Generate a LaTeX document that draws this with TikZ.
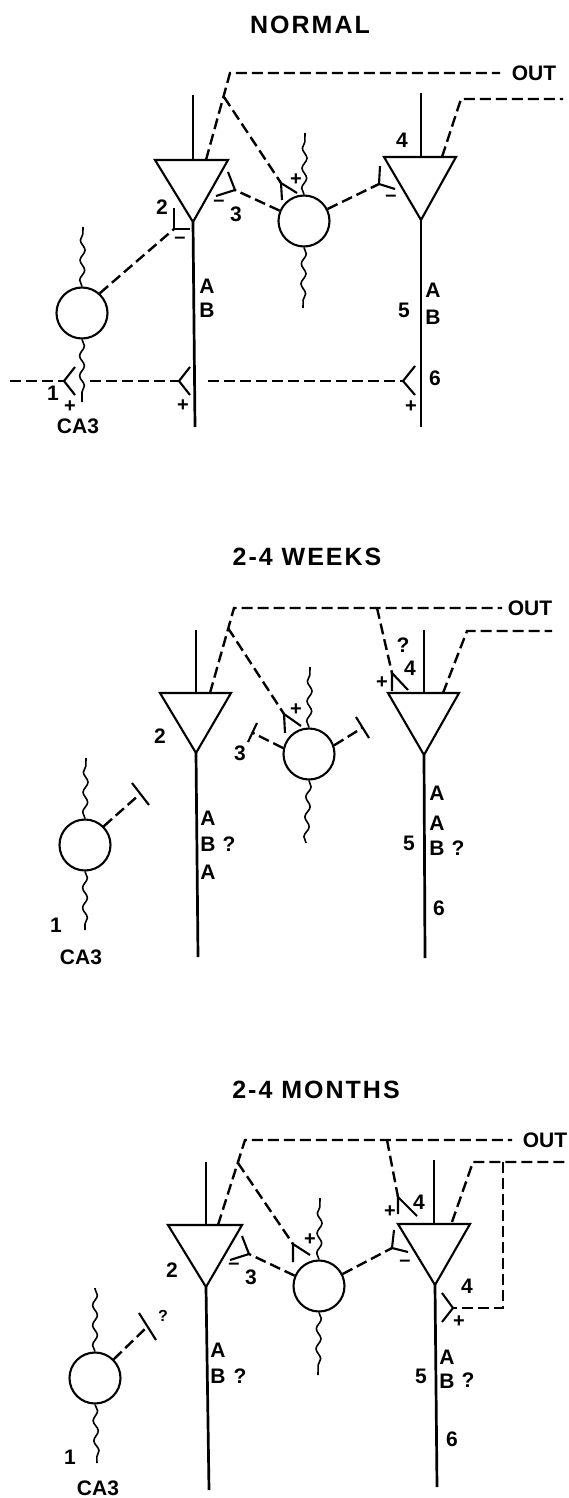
\documentclass[tikz,border=0pt]{standalone}
\usepackage{fontspec}
\setmainfont{Liberation Sans}
\newfontfamily\ttlfont[LetterSpace=8]{Liberation Sans}
\usetikzlibrary{decorations.pathmorphing}
\begin{document}
\begin{tikzpicture}[x=1pt,y=-1pt,
 axon/.style={line width=2.7pt},
 body/.style={line width=2.1pt, line join=miter},
 dsh/.style={line width=2.4pt, dash pattern=on 11pt off 5pt},
 syn/.style={line width=2.1pt},
 wav/.style={line width=1.6pt, decorate, decoration={snake, amplitude=2.4pt, segment length=20pt}},
 cell/.style={circle, draw, line width=2.1pt, minimum size=51pt, inner sep=0pt},
 lab/.style={font=\bfseries\fontsize{21}{21}\selectfont, inner sep=0pt},
 sml/.style={font=\bfseries\fontsize{20}{20}\selectfont, inner sep=0pt},
 tiny/.style={font=\bfseries\fontsize{16}{16}\selectfont, inner sep=0pt},
 ttl/.style={font=\ttlfont\bfseries\fontsize{25}{25}\selectfont, inner sep=0pt}]
\useasboundingbox (0,0) rectangle (569,1498);

%================ PANEL 1 : NORMAL ================
\node[ttl] (t1) at (310,25) {NORMAL};
% left granule cell
\coordinate (a1l) at (155,160); \coordinate (a1r) at (228,160); \coordinate (a1p) at (193,222);
\coordinate (a1d) at (193,95); \coordinate (a1t) at (193,160); \coordinate (a1b) at (195,427);
\draw[body] (a1l) -- (a1r) -- (a1p) -- cycle;
\draw[axon] (a1d) -- (a1t); \draw[axon] (a1p) -- (a1b);
% right granule cell
\coordinate (b1l) at (384,157); \coordinate (b1r) at (456,157); \coordinate (b1p) at (421,220);
\coordinate (b1d) at (421,93); \coordinate (b1t) at (421,157); \coordinate (b1b) at (421,427);
\draw[body] (b1l) -- (b1r) -- (b1p) -- cycle;
\draw[axon] (b1d) -- (b1t); \draw[axon] (b1p) -- (b1b);
% outputs
\coordinate (o1a) at (206,160); \coordinate (k1) at (230,73); \coordinate (o1e) at (500,73);
\draw[dsh] (o1a) -- (k1) -- (o1e);
\node[lab] (out1) at (534,73) {OUT};
\coordinate (o2a) at (442,157); \coordinate (k2) at (461,99); \coordinate (o2e) at (563,99);
\draw[dsh] (o2a) -- (k2) -- (o2e);
% interneuron
\node[cell] (c1) at (304,221) {};
\coordinate (c1u) at (305,133); \coordinate (c1d) at (303,308);
\draw[wav] (c1.north) -- (c1u); \draw[wav] (c1.south) -- (c1d);
% recurrent excitation to interneuron (+)
\coordinate (p1) at (224,97); \coordinate (s1) at (281,183);
\coordinate (s1a) at (282,200); \coordinate (s1b) at (297,193);
\draw[dsh] (p1) -- (s1);
\draw[syn] (s1a) -- (s1) -- (s1b);
\node[sml] (pl1) at (296,180) {+};
% synapse 3
\coordinate (s3) at (235,190); \coordinate (s3a) at (228,172); \coordinate (s3b) at (216,196);
\draw[dsh] (c1.157) -- (s3);
\draw[syn] (s3a) -- (s3) -- (s3b);
\node[sml] (m3) at (219,203) {–};
\node[lab] (n3) at (236,214) {3};
% inhibitory synapse on right cell
\coordinate (s4) at (379,184); \coordinate (s4a) at (380,166); \coordinate (s4b) at (395,189);
\draw[dsh] (c1.27) -- (s4);
\draw[syn] (s4a) -- (s4) -- (s4b);
\node[sml] (m4) at (391,198) {–};
\node[lab] (n4) at (402,140) {4};
% left interneuron
\node[cell] (d1) at (82,313) {};
\coordinate (d1u) at (83,227); \coordinate (d1d) at (82,402);
\draw[wav] (d1.north) -- (d1u); \draw[wav] (d1.south) -- (d1d);
\coordinate (s2) at (174,229); \coordinate (s2a) at (174,208); \coordinate (s2b) at (190,229);
\draw[dsh] (d1.48) -- (s2);
\draw[syn] (s2a) -- (s2) -- (s2b);
\node[lab] (n2) at (162,207) {2};
\node[sml] (m2) at (180,240) {–};
% mossy fibre line
\coordinate (e1) at (10,381); \coordinate (v1) at (64,381);
\coordinate (v1a) at (75,367); \coordinate (v1b) at (75,395);
\coordinate (e2) at (90,381); \coordinate (v2) at (179,381);
\coordinate (v2a) at (190,367); \coordinate (v2b) at (190,395);
\coordinate (e3) at (208,381); \coordinate (v3) at (403,381);
\coordinate (v3a) at (415,366); \coordinate (v3b) at (415,395);
\draw[dsh] (e1) -- (v1); \draw[syn] (v1a) -- (v1) -- (v1b);
\draw[dsh] (e2) -- (v2); \draw[syn] (v2a) -- (v2) -- (v2b);
\draw[dsh] (e3) -- (v3); \draw[syn] (v3a) -- (v3) -- (v3b);
\node[lab] (n1) at (53,393) {1};
\node[sml] (pv1) at (70,407) {+};
\node[lab] (ca1) at (78,426) {CA3};
\node[sml] (pv2) at (183,406) {+};
\node[sml] (pv3) at (411,407) {+};
\node[lab] (A1) at (207,286) {A};
\node[lab] (B1) at (207,310) {B};
\node[lab] (A1r) at (433,290) {A};
\node[lab] (B1r) at (433,317) {B};
\node[lab] (n5) at (404,310) {5};
\node[lab] (n6) at (435,378) {6};

%================ PANEL 2 : 2-4 WEEKS ================
\node[ttl] (t2) at (307,557) {2-4 WEEKS};
\coordinate (a2l) at (160,693); \coordinate (a2r) at (231,693); \coordinate (a2p) at (196,753);
\coordinate (a2d) at (196,630); \coordinate (a2t) at (196,693); \coordinate (a2b) at (198,957);
\draw[body] (a2l) -- (a2r) -- (a2p) -- cycle;
\draw[axon] (a2d) -- (a2t); \draw[axon] (a2p) -- (a2b);
\coordinate (b2l) at (388,693); \coordinate (b2r) at (459,693); \coordinate (b2p) at (424,755);
\coordinate (b2d) at (424,630); \coordinate (b2t) at (424,693); \coordinate (b2b) at (425,958);
\draw[body] (b2l) -- (b2r) -- (b2p) -- cycle;
\draw[axon] (b2d) -- (b2t); \draw[axon] (b2p) -- (b2b);
\coordinate (o3a) at (210,693); \coordinate (k3) at (234,608); \coordinate (o3e) at (502,608);
\draw[dsh] (o3a) -- (k3) -- (o3e);
\node[lab] (out2) at (530,608) {OUT};
\coordinate (o4a) at (443,693); \coordinate (k4) at (467,631); \coordinate (o4e) at (552,631);
\draw[dsh] (o4a) -- (k4) -- (o4e);
\node[cell] (c2) at (309,754) {};
\coordinate (c2u) at (310,667); \coordinate (c2d) at (306,843);
\draw[wav] (c2.north) -- (c2u); \draw[wav] (c2.south) -- (c2d);
\coordinate (p2) at (228,628); \coordinate (s5) at (284,714);
\coordinate (s5a) at (285,733); \coordinate (s5b) at (301,726);
\draw[dsh] (p2) -- (s5); \draw[syn] (s5a) -- (s5) -- (s5b);
\node[sml] (pl2) at (296,710) {+};
% T-bars
\coordinate (tb1) at (253,733); \coordinate (tb1a) at (257,723); \coordinate (tb1b) at (248,742);
\draw[dsh] (c2.167) -- (tb1); \draw[syn] (tb1a) -- (tb1b);
\node[lab] (n3b) at (240,753) {3};
\coordinate (tb2) at (362,728); \coordinate (tb2a) at (356,717); \coordinate (tb2b) at (369,738);
\draw[dsh] (c2.19) -- (tb2); \draw[syn] (tb2a) -- (tb2b);
% recurrent to right cell (4)
\coordinate (p3) at (377,608); \coordinate (s6) at (392,673);
\coordinate (s6a) at (392,691); \coordinate (s6b) at (408,690);
\draw[dsh] (p3) -- (s6); \draw[syn] (s6a) -- (s6) -- (s6b);
\node[sml] (pl3) at (382,683) {+};
\node[lab] (n4b) at (410,668) {4};
\node[lab] (q1) at (403,645) {?};
% left interneuron
\node[cell] (d2) at (85,845) {};
\coordinate (d2u) at (86,758); \coordinate (d2d) at (85,930);
\draw[wav] (d2.north) -- (d2u); \draw[wav] (d2.south) -- (d2d);
\coordinate (tb3) at (140,794); \coordinate (tb3a) at (132,783); \coordinate (tb3b) at (149,805);
\draw[dsh] (d2.45) -- (tb3); \draw[syn] (tb3a) -- (tb3b);
\node[lab] (n2b) at (160,736) {2};
\node[lab] (A2) at (208,818) {A};
\node[lab] (B2) at (208,844) {B};
\node[lab] (q2) at (229,844) {?};
\node[lab] (A2b) at (208,872) {A};
\node[lab] (A2r) at (437,793) {A};
\node[lab] (A2s) at (437,823) {A};
\node[lab] (B2r) at (437,848) {B};
\node[lab] (q3) at (458,848) {?};
\node[lab] (n5b) at (409,843) {5};
\node[lab] (n6b) at (439,908) {6};
\node[lab] (n1b) at (56,925) {1};
\node[lab] (ca2) at (81,957) {CA3};

%================ PANEL 3 : 2-4 MONTHS ================
\node[ttl] (t3) at (316,1090) {2-4 MONTHS};
\coordinate (a3l) at (168,1225); \coordinate (a3r) at (242,1225); \coordinate (a3p) at (206,1287);
\coordinate (a3d) at (206,1162); \coordinate (a3t) at (206,1225); \coordinate (a3b) at (209,1490);
\draw[body] (a3l) -- (a3r) -- (a3p) -- cycle;
\draw[axon] (a3d) -- (a3t); \draw[axon] (a3p) -- (a3b);
\coordinate (b3l) at (398,1224); \coordinate (b3r) at (470,1224); \coordinate (b3p) at (435,1285);
\coordinate (b3d) at (434,1160); \coordinate (b3t) at (434,1224); \coordinate (b3b) at (437,1487);
\draw[body] (b3l) -- (b3r) -- (b3p) -- cycle;
\draw[axon] (b3d) -- (b3t); \draw[axon] (b3p) -- (b3b);
\coordinate (o5a) at (218,1225); \coordinate (k5) at (245,1140); \coordinate (o5e) at (512,1140);
\draw[dsh] (o5a) -- (k5) -- (o5e);
\node[lab] (out3) at (545,1140) {OUT};
\coordinate (o6a) at (452,1222); \coordinate (k6) at (473,1162); \coordinate (o6e) at (569,1162);
\draw[dsh] (o6a) -- (k6) -- (o6e);
% recurrent loop onto own axon
\coordinate (r1) at (503,1162); \coordinate (r2) at (503,1308); \coordinate (s9) at (453,1308);
\coordinate (s9a) at (442,1293); \coordinate (s9b) at (442,1322);
\draw[dsh] (r1) -- (r2) -- (s9); \draw[syn] (s9a) -- (s9) -- (s9b);
\node[lab] (n4d) at (467,1286) {4};
\node[sml] (pl6) at (459,1322) {+};
\node[cell] (c3) at (319,1286) {};
\coordinate (c3u) at (320,1198); \coordinate (c3d) at (318,1375);
\draw[wav] (c3.north) -- (c3u); \draw[wav] (c3.south) -- (c3d);
\coordinate (p4) at (238,1163); \coordinate (s7) at (293,1244);
\coordinate (s7a) at (293,1262); \coordinate (s7b) at (310,1255);
\draw[dsh] (p4) -- (s7); \draw[syn] (s7a) -- (s7) -- (s7b);
\node[sml] (pl4) at (310,1240) {+};
% synapse 3
\coordinate (s8) at (249,1254); \coordinate (s8a) at (242,1236); \coordinate (s8b) at (230,1260);
\draw[dsh] (c3.157) -- (s8); \draw[syn] (s8a) -- (s8) -- (s8b);
\node[sml] (m3c) at (234,1266) {–};
\node[lab] (n3c) at (251,1277) {3};
% inhibitory on right cell
\coordinate (s10) at (392,1248); \coordinate (s10a) at (394,1230); \coordinate (s10b) at (408,1252);
\draw[dsh] (c3.27) -- (s10); \draw[syn] (s10a) -- (s10) -- (s10b);
\node[sml] (m4c) at (405,1263) {–};
% recurrent from OUT line (4)
\coordinate (p5) at (387,1140); \coordinate (s11) at (398,1197);
\coordinate (s11a) at (398,1214); \coordinate (s11b) at (417,1216);
\draw[dsh] (p5) -- (s11); \draw[syn] (s11a) -- (s11) -- (s11b);
\node[sml] (pl5) at (390,1212) {+};
\node[lab] (n4c) at (419,1202) {4};
% left interneuron
\node[cell] (d3) at (95,1378) {};
\coordinate (d3u) at (95,1288); \coordinate (d3d) at (97,1463);
\draw[wav] (d3.north) -- (d3u); \draw[wav] (d3.south) -- (d3d);
\coordinate (tb4) at (147,1327); \coordinate (tb4a) at (139,1313); \coordinate (tb4b) at (156,1340);
\draw[dsh] (d3.45) -- (tb4); \draw[syn] (tb4a) -- (tb4b);
\node[tiny] (q4) at (163,1316) {?};
\node[lab] (n2c) at (172,1270) {2};
\node[lab] (A3) at (218,1350) {A};
\node[lab] (B3) at (218,1376) {B};
\node[lab] (q5) at (240,1376) {?};
\node[lab] (A3r) at (447,1357) {A};
\node[lab] (B3r) at (447,1381) {B};
\node[lab] (q6) at (468,1380) {?};
\node[lab] (n5c) at (421,1376) {5};
\node[lab] (n6c) at (452,1439) {6};
\node[lab] (n1c) at (70,1457) {1};
\node[lab] (ca3) at (98,1488) {CA3};
\end{tikzpicture}
\end{document}
